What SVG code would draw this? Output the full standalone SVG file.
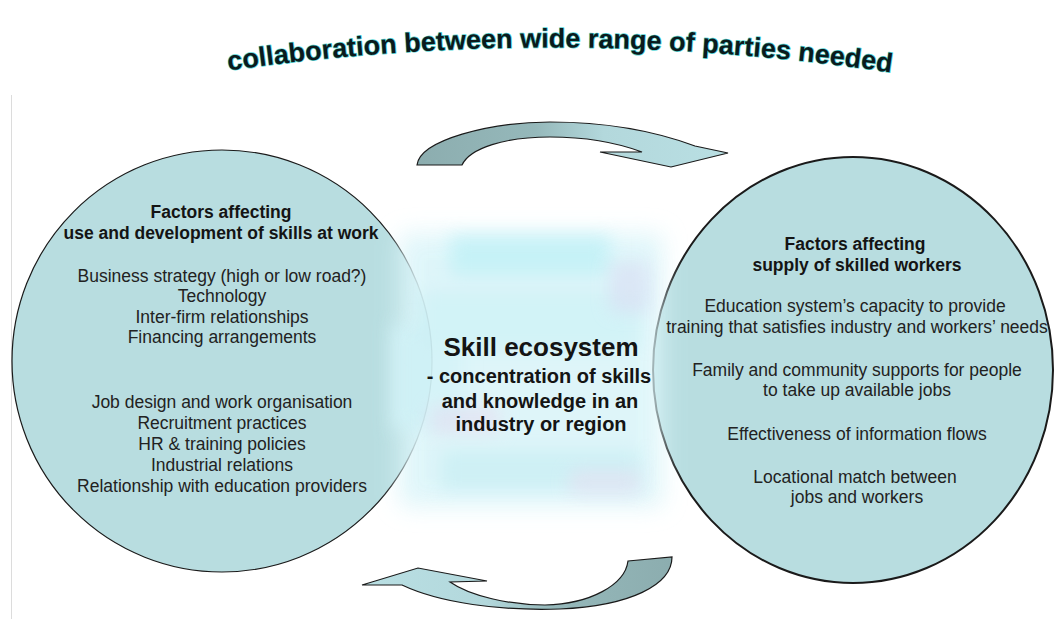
<svg xmlns="http://www.w3.org/2000/svg" width="1054" height="619" viewBox="0 0 1054 619">
<style>
  .circ { fill: #b8dde0; stroke: #1a1a1a; }
  .bold { font-family: "Liberation Sans", Arial, sans-serif; font-weight: bold; fill: #141414; text-anchor: middle; }
  .reg { font-family: "Liberation Sans", Arial, sans-serif; font-size: 17.5px; fill: #222; text-anchor: middle; }
  .arrow { stroke: #1a1a1a; stroke-width: 1.2; stroke-linejoin: miter; }
  .title { font-family: "Liberation Sans", Arial, sans-serif; font-weight: bold; font-size: 27px; fill: #0b1a1c; stroke: #5ad6d6; stroke-width: 1.4; stroke-linejoin: round; paint-order: stroke; }
</style>
<defs>
  <linearGradient id="gTop" gradientUnits="userSpaceOnUse" x1="417" y1="0" x2="728" y2="0">
    <stop offset="0" stop-color="#8cadaf"/>
    <stop offset="0.38" stop-color="#95b8ba"/>
    <stop offset="0.6" stop-color="#b3d8dc"/>
    <stop offset="1" stop-color="#b9dfe3"/>
  </linearGradient>
  <linearGradient id="gBot" gradientUnits="userSpaceOnUse" x1="672" y1="0" x2="362" y2="0">
    <stop offset="0" stop-color="#8cadaf"/>
    <stop offset="0.38" stop-color="#95b8ba"/>
    <stop offset="0.6" stop-color="#b3d8dc"/>
    <stop offset="1" stop-color="#b9dfe3"/>
  </linearGradient>
  <filter id="blur" x="-30%" y="-30%" width="160%" height="160%">
    <feGaussianBlur stdDeviation="12"/>
  </filter>
  <filter id="blurS" x="-50%" y="-50%" width="200%" height="200%">
    <feGaussianBlur stdDeviation="9"/>
  </filter>
  <path id="titlePath" d="M 212 73 Q 557 21 908 75"/>
</defs>

<rect width="1054" height="619" fill="#ffffff"/>
<line x1="11.5" y1="95" x2="11.5" y2="619" stroke="#dcdcdc" stroke-width="1"/>

<g id="title">
  <text class="title"><textPath href="#titlePath" startOffset="50%" text-anchor="middle">collaboration between wide range of parties needed</textPath></text>
</g>

<g id="left-circle">
  <ellipse class="circ" cx="222" cy="361" rx="210" ry="211" stroke-width="1.2"/>
  <text class="bold" font-size="17.5" x="221" y="218">Factors affecting</text>
  <text class="bold" font-size="17.5" x="221" y="239">use and development of skills at work</text>
  <text class="reg" x="222" y="282">Business strategy (high or low road?)</text>
  <text class="reg" x="222" y="302">Technology</text>
  <text class="reg" x="222" y="323">Inter-firm relationships</text>
  <text class="reg" x="222" y="343">Financing arrangements</text>
  <text class="reg" x="222" y="408">Job design and work organisation</text>
  <text class="reg" x="222" y="429">Recruitment practices</text>
  <text class="reg" x="222" y="450">HR &amp; training policies</text>
  <text class="reg" x="222" y="471">Industrial relations</text>
  <text class="reg" x="222" y="492">Relationship with education providers</text>
</g>

<g id="right-circle">
  <ellipse class="circ" cx="853" cy="370" rx="200" ry="213" stroke-width="2"/>
</g>

<g id="skill-ecosystem">
  <g opacity="0.92">
    <rect x="400" y="234" width="262" height="272" fill="#dcf5f9" filter="url(#blur)"/>
    <rect x="392" y="325" width="70" height="104" fill="#d2f3f8" filter="url(#blurS)"/>
    <rect x="450" y="236" width="160" height="40" fill="#c2f1f7" filter="url(#blurS)"/>
    <rect x="420" y="290" width="220" height="60" fill="#cff2f7" filter="url(#blurS)"/>
    <rect x="610" y="262" width="40" height="50" fill="#d8def4" opacity="0.7" filter="url(#blurS)"/>
    <rect x="430" y="405" width="70" height="30" fill="#e4dcf1" opacity="0.6" filter="url(#blurS)"/>
    <rect x="440" y="450" width="200" height="40" fill="#cbeff5" filter="url(#blurS)"/>
    <rect x="570" y="470" width="70" height="25" fill="#e6def2" opacity="0.6" filter="url(#blurS)"/>
  </g>
  <text class="bold" font-size="26" x="541" y="356">Skill ecosystem</text>
  <text class="bold" font-size="20" x="539" y="383">- concentration of skills</text>
  <text class="bold" font-size="20" x="540" y="408">and knowledge in an</text>
  <text class="bold" font-size="20" x="541" y="431">industry or region</text>
</g>

<g id="right-circle-text">
  <text class="bold" font-size="17.5" x="855" y="250">Factors affecting</text>
  <text class="bold" font-size="17.5" x="857" y="271">supply of skilled workers</text>
  <text class="reg" x="855" y="312">Education system’s capacity to provide</text>
  <text class="reg" x="857" y="333">training that satisfies industry and workers’ needs</text>
  <text class="reg" x="857" y="376">Family and community supports for people</text>
  <text class="reg" x="857" y="396">to take up available jobs</text>
  <text class="reg" x="857" y="440">Effectiveness of information flows</text>
  <text class="reg" x="855" y="483">Locational match between</text>
  <text class="reg" x="857" y="503">jobs and workers</text>
</g>

<g id="connectors">
  <path class="arrow" fill="url(#gTop)" d="M 417 165 C 420 140 490 122 550 122 C 610 122 660 133 695 146 L 728 153 L 671 167 L 600 152 L 642 152 C 615 142 585 137 550 137 C 505 137 470 148 462 165 Z"/>
  <path class="arrow" fill="url(#gBot)" d="M 628 561 L 672 557 C 672 585 630 606 560 609 C 500 611 440 603 402 585 L 362 585 L 418 568 L 487 581 L 450 582 C 470 596 510 605 545 605 C 590 604 625 585 628 561 Z"/>
</g>
</svg>
